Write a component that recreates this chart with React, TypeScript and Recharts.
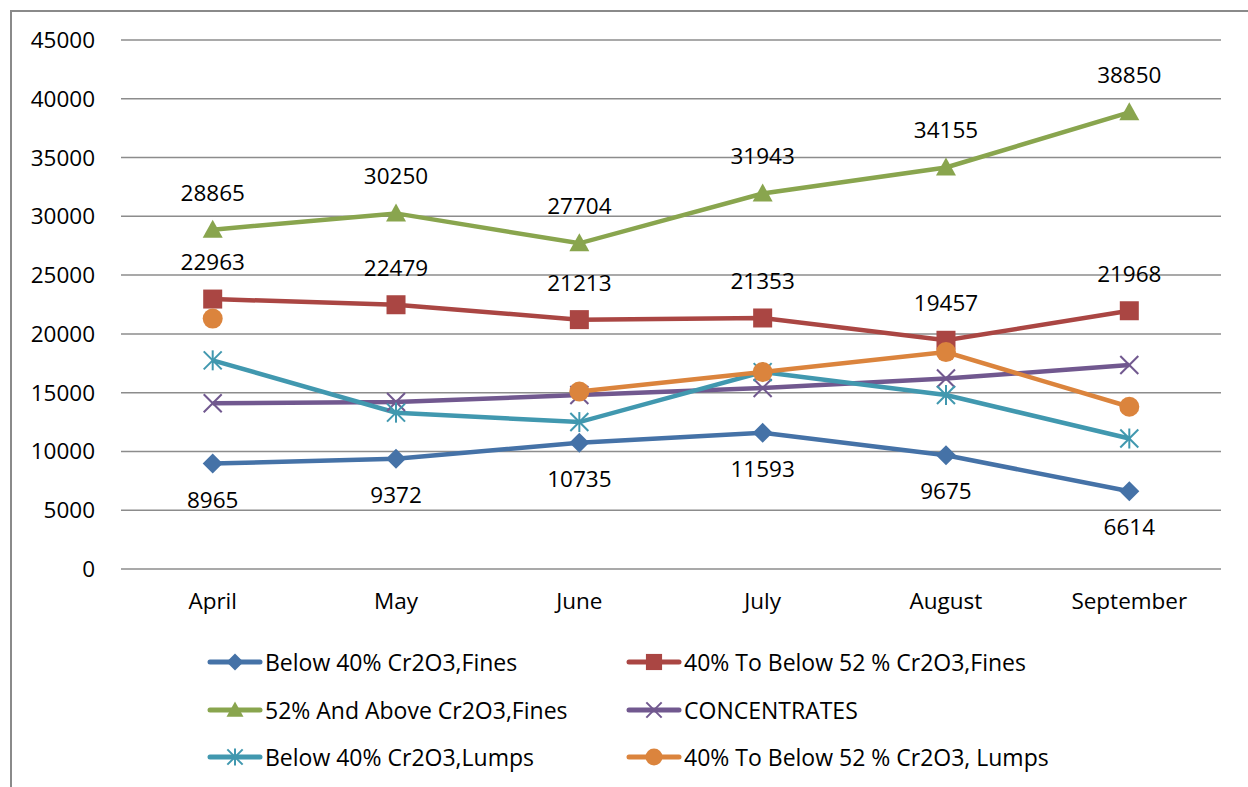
import React from 'react';
import { LineChart, Line, XAxis, YAxis, CartesianGrid, LabelList } from 'recharts';

const months = ['April', 'May', 'June', 'July', 'August', 'September'];
const below40Fines = [8965, 9372, 10735, 11593, 9675, 6614];
const fines40to52 = [22963, 22479, 21213, 21353, 19457, 21968];
const fines52Above = [28865, 30250, 27704, 31943, 34155, 38850];
const concentrates = [14100, 14200, 14800, 15400, 16200, 17350];
const below40Lumps = [17750, 13300, 12500, 16750, 14800, 11100];
const lumps40to52: (number | null)[] = [21300, null, 15100, 16750, 18450, 13800];
const yTicks = [0, 5000, 10000, 15000, 20000, 25000, 30000, 35000, 40000, 45000];

const data = months.map((m, i) => ({
  month: m,
  b40f: below40Fines[i],
  f4052: fines40to52[i],
  f52: fines52Above[i],
  conc: concentrates[i],
  b40l: below40Lumps[i],
  l4052: lumps40to52[i],
}));

type Shape = 'diamond' | 'square' | 'triangle' | 'x' | 'star' | 'circle';

const series: { key: string; name: string; color: string; shape: Shape }[] = [
  { key: 'b40f', name: 'Below 40% Cr2O3,Fines', color: '#4572A7', shape: 'diamond' },
  { key: 'f4052', name: '40% To Below 52 % Cr2O3,Fines', color: '#AA4643', shape: 'square' },
  { key: 'f52', name: '52% And Above Cr2O3,Fines', color: '#89A54E', shape: 'triangle' },
  { key: 'conc', name: 'CONCENTRATES', color: '#71588F', shape: 'x' },
  { key: 'b40l', name: 'Below 40% Cr2O3,Lumps', color: '#4198AF', shape: 'star' },
  { key: 'l4052', name: '40% To Below 52 % Cr2O3, Lumps', color: '#DB843D', shape: 'circle' },
];

const FONT = '"Open Sans", sans-serif';

function Marker({ shape, color, cx, cy, s = 1 }: { shape: Shape; color: string; cx: number; cy: number; s?: number }) {
  switch (shape) {
    case 'diamond':
      return <polygon points={`${cx},${cy - 10 * s} ${cx + 10 * s},${cy} ${cx},${cy + 10 * s} ${cx - 10 * s},${cy}`} fill={color} />;
    case 'square':
      return <rect x={cx - 9.5 * s} y={cy - 9.5 * s} width={19 * s} height={19 * s} fill={color} />;
    case 'triangle':
      return <polygon points={`${cx},${cy - 10 * s} ${cx + 10 * s},${cy + 8 * s} ${cx - 10 * s},${cy + 8 * s}`} fill={color} />;
    case 'x':
      return (
        <g stroke={color} strokeWidth={2}>
          <line x1={cx - 9 * s} y1={cy - 9 * s} x2={cx + 9 * s} y2={cy + 9 * s} />
          <line x1={cx - 9 * s} y1={cy + 9 * s} x2={cx + 9 * s} y2={cy - 9 * s} />
        </g>
      );
    case 'star':
      return (
        <g stroke={color} strokeWidth={2}>
          <line x1={cx - 9 * s} y1={cy - 9 * s} x2={cx + 9 * s} y2={cy + 9 * s} />
          <line x1={cx - 9 * s} y1={cy + 9 * s} x2={cx + 9 * s} y2={cy - 9 * s} />
          <line x1={cx} y1={cy - 10 * s} x2={cx} y2={cy + 10 * s} />
        </g>
      );
    default:
      return <circle cx={cx} cy={cy} r={10 * s} fill={color} />;
  }
}

const makeDot = (shape: Shape, color: string) => (props: any) => {
  const { cx, cy, value, index } = props;
  if (value == null || cx == null || cy == null) return <g key={`n${index}`} />;
  return (
    <g key={`d${index}`}>
      <Marker shape={shape} color={color} cx={cx} cy={cy} />
    </g>
  );
};

function LegendRow({ s, x, y }: { s: (typeof series)[number]; x: number; y: number }) {
  return (
    <div style={{ position: 'absolute', left: x, top: y - 15, height: 30, display: 'flex', alignItems: 'center' }}>
      <svg width={58} height={30}>
        <line x1={3} y1={15} x2={53} y2={15} stroke={s.color} strokeWidth={5} strokeLinecap="round" />
        <Marker shape={s.shape} color={s.color} cx={28} cy={15} s={0.85} />
      </svg>
      <span style={{ fontSize: 23, color: '#000', whiteSpace: 'nowrap' }}>{s.name}</span>
    </div>
  );
}

export default function App() {
  const labelStyle = { fontSize: 22.5, fill: '#000', fontFamily: FONT };
  return (
    <div style={{ position: 'absolute', left: 0, top: 0, width: 1248, height: 787, background: '#fff', fontFamily: FONT, overflow: 'hidden' }}>
      <div style={{ position: 'absolute', left: 10, top: 10, width: 1300, height: 900, border: '2px solid #8a8a8a' }} />
      <div style={{ position: 'absolute', left: 0, top: 0 }}>
        <LineChart width={1248} height={787} data={data} margin={{ top: 40, right: 27, left: 0, bottom: 158 }}>
          <CartesianGrid vertical={false} stroke="#8c8c8c" strokeWidth={1.5} />
          <XAxis
            dataKey="month"
            axisLine={false}
            tickLine={false}
            tickSize={8}
            tickMargin={16}
            height={60}
            padding={{ left: 91.7, right: 91.7 }}
            tick={{ fontSize: 22.5, fill: '#000' }}
          />
          <YAxis
            domain={[0, 45000]}
            ticks={yTicks}
            axisLine={false}
            tickLine={false}
            tickSize={8}
            tickMargin={18}
            width={121}
            tick={{ fontSize: 22.5, fill: '#000' }}
          />
          {series.map((s) => (
            <Line
              key={s.key}
              dataKey={s.key}
              name={s.name}
              stroke={s.color}
              strokeWidth={4.5}
              dot={makeDot(s.shape, s.color)}
              activeDot={false}
              connectNulls={false}
              isAnimationActive={false}
            >
              {s.key === 'b40f' && <LabelList dataKey={s.key} position="bottom" offset={28} style={labelStyle} />}
              {(s.key === 'f4052' || s.key === 'f52') && (
                <LabelList dataKey={s.key} position="top" offset={29} style={labelStyle} />
              )}
            </Line>
          ))}
        </LineChart>
      </div>
      {series.map((s, i) => (
        <LegendRow key={s.key} s={s} x={i % 2 === 0 ? 207 : 626} y={[662, 710, 757][Math.floor(i / 2)]} />
      ))}
    </div>
  );
}
